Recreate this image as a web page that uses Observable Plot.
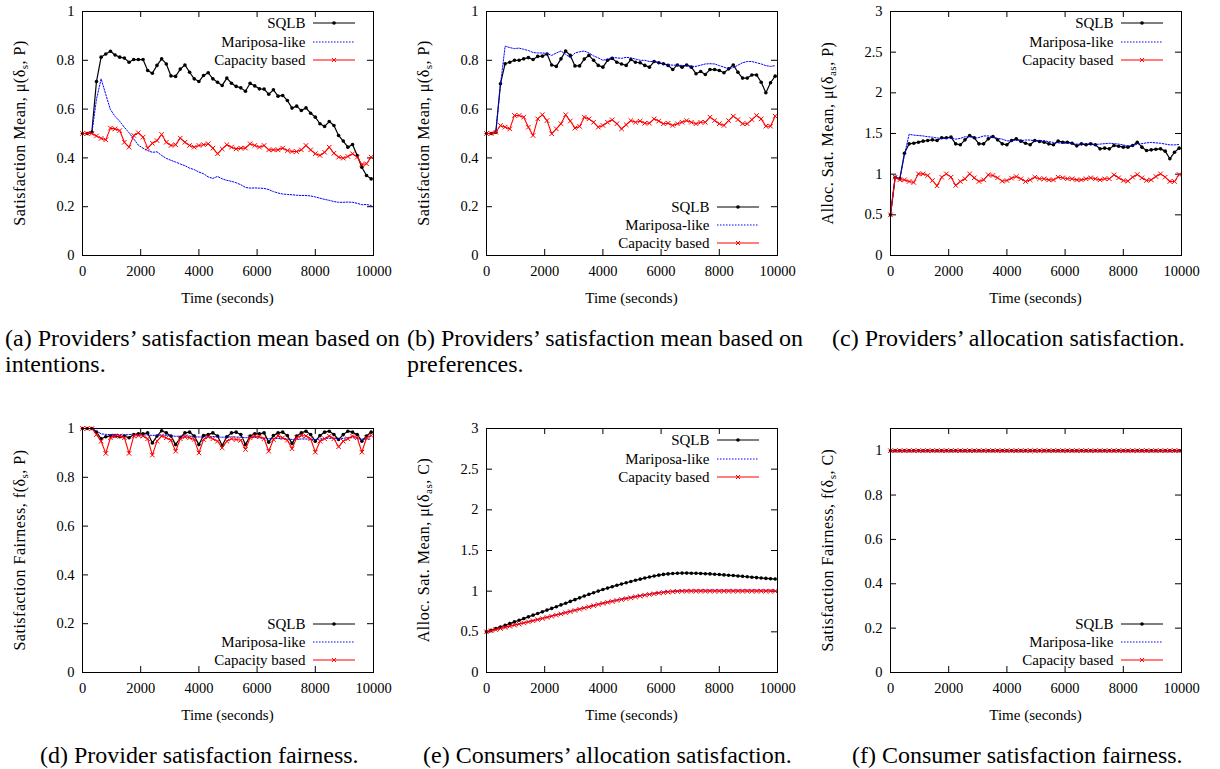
<!DOCTYPE html>
<html><head><meta charset="utf-8">
<script src="https://cdn.jsdelivr.net/npm/d3@7"></script>
<script src="https://cdn.jsdelivr.net/npm/@observablehq/plot@0.6"></script>
<style>
html,body{margin:0;padding:0;background:#fff;}
body{font-family:"Liberation Serif","Times New Roman",serif;color:#000;}
#page{position:relative;width:1220px;height:769px;overflow:hidden;background:#fff;}
.panel{position:absolute;}
.ylab{position:absolute;white-space:nowrap;font-size:16px;letter-spacing:0.5px;line-height:16px;transform:translate(-50%,-50%) rotate(-90deg);}
.ylab sub{font-size:11px;vertical-align:-3px;line-height:0;}
.xlab{position:absolute;white-space:nowrap;font-size:15px;line-height:15px;transform:translateX(-50%);}
.cap{position:absolute;font-size:24px;line-height:26px;white-space:nowrap;}
.legtext{position:absolute;font-size:15px;line-height:15px;white-space:nowrap;transform:translate(-100%,-50%);}
.legsample{position:absolute;}
</style></head><body><div id="page"></div>
<script>
// ---------- data ----------
const time = d3.range(0, 10000, 160); // sampling grid (s)
const xTicks = [0, 2000, 4000, 6000, 8000, 10000];
const yTicks01 = [0, 0.2, 0.4, 0.6, 0.8, 1];
const yTicks03 = [0, 0.5, 1, 1.5, 2, 2.5, 3];
const seriesNames = ["SQLB", "Mariposa-like", "Capacity based"];

// (a) providers' satisfaction mean based on intentions
const aSQLB = [0.5,0.5,0.505,0.713,0.813,0.826,0.837,0.822,0.813,0.809,0.792,0.803,0.803,0.803,0.758,0.747,0.779,0.806,0.785,0.736,0.734,0.764,0.781,0.751,0.724,0.713,0.738,0.749,0.724,0.71,0.697,0.727,0.706,0.693,0.687,0.673,0.706,0.695,0.683,0.682,0.661,0.679,0.653,0.656,0.635,0.604,0.612,0.594,0.605,0.583,0.567,0.54,0.529,0.549,0.533,0.492,0.469,0.444,0.455,0.41,0.362,0.328,0.314];
const aMari = [0.5,0.5,0.5,0.64,0.724,0.66,0.598,0.57,0.55,0.525,0.503,0.478,0.452,0.44,0.43,0.423,0.425,0.41,0.398,0.39,0.383,0.375,0.368,0.358,0.352,0.342,0.335,0.322,0.316,0.324,0.314,0.308,0.304,0.298,0.29,0.279,0.276,0.277,0.276,0.275,0.27,0.262,0.256,0.252,0.25,0.249,0.247,0.246,0.246,0.244,0.24,0.235,0.23,0.226,0.221,0.218,0.218,0.219,0.218,0.214,0.208,0.209,0.205];
const aCap = [0.5,0.5,0.5,0.49,0.48,0.474,0.522,0.519,0.512,0.464,0.444,0.492,0.503,0.485,0.44,0.46,0.471,0.496,0.464,0.451,0.454,0.481,0.464,0.451,0.444,0.451,0.454,0.458,0.44,0.417,0.437,0.454,0.444,0.437,0.44,0.44,0.458,0.451,0.444,0.451,0.433,0.433,0.433,0.44,0.43,0.426,0.426,0.433,0.451,0.433,0.417,0.41,0.423,0.444,0.419,0.403,0.399,0.406,0.417,0.403,0.373,0.376,0.403];

// (b) providers' satisfaction mean based on preferences
const bSQLB = [0.5,0.5,0.505,0.704,0.786,0.792,0.8,0.8,0.806,0.811,0.803,0.816,0.817,0.826,0.781,0.775,0.806,0.838,0.82,0.777,0.777,0.805,0.82,0.8,0.779,0.772,0.8,0.808,0.792,0.785,0.779,0.803,0.792,0.79,0.779,0.772,0.795,0.79,0.786,0.779,0.762,0.781,0.772,0.781,0.772,0.745,0.754,0.742,0.762,0.762,0.758,0.749,0.765,0.781,0.751,0.727,0.727,0.74,0.74,0.71,0.667,0.708,0.735];
const bMari = [0.5,0.5,0.505,0.7,0.858,0.852,0.848,0.85,0.845,0.84,0.832,0.83,0.83,0.828,0.82,0.83,0.838,0.825,0.81,0.83,0.835,0.838,0.83,0.818,0.81,0.8,0.805,0.812,0.81,0.808,0.812,0.81,0.805,0.8,0.8,0.795,0.795,0.79,0.785,0.782,0.78,0.78,0.779,0.778,0.775,0.775,0.78,0.785,0.786,0.785,0.778,0.772,0.765,0.77,0.78,0.79,0.795,0.795,0.79,0.785,0.778,0.775,0.778];
const bCap = [0.5,0.5,0.505,0.533,0.526,0.519,0.574,0.574,0.567,0.526,0.492,0.56,0.577,0.553,0.499,0.519,0.54,0.577,0.551,0.522,0.529,0.567,0.56,0.546,0.526,0.533,0.546,0.556,0.54,0.519,0.536,0.553,0.546,0.551,0.542,0.542,0.56,0.551,0.54,0.542,0.533,0.54,0.546,0.553,0.546,0.54,0.546,0.546,0.567,0.553,0.54,0.533,0.553,0.571,0.557,0.54,0.54,0.557,0.574,0.56,0.53,0.53,0.571];

// (c) providers' allocation satisfaction
const cSQLB = [0.5,0.963,0.943,1.258,1.373,1.381,1.393,1.406,1.414,1.422,1.414,1.447,1.447,1.455,1.373,1.361,1.422,1.475,1.447,1.373,1.373,1.434,1.463,1.422,1.373,1.361,1.414,1.434,1.406,1.381,1.361,1.414,1.402,1.393,1.373,1.361,1.406,1.393,1.393,1.381,1.348,1.373,1.361,1.373,1.361,1.311,1.32,1.311,1.352,1.344,1.332,1.332,1.352,1.393,1.332,1.291,1.299,1.307,1.311,1.283,1.189,1.27,1.32];
const cMari = [0.5,0.96,0.94,1.24,1.49,1.48,1.475,1.47,1.46,1.455,1.445,1.44,1.44,1.45,1.43,1.44,1.46,1.46,1.44,1.45,1.47,1.47,1.46,1.44,1.43,1.41,1.41,1.42,1.41,1.42,1.42,1.41,1.415,1.41,1.4,1.39,1.385,1.38,1.38,1.375,1.37,1.37,1.375,1.37,1.365,1.37,1.375,1.38,1.375,1.37,1.36,1.345,1.35,1.37,1.375,1.385,1.39,1.385,1.38,1.37,1.36,1.36,1.365];
const cCap = [0.5,0.963,0.93,0.93,0.91,0.898,1.004,1.004,0.984,0.922,0.857,0.963,1.004,0.963,0.861,0.91,0.943,1.004,0.955,0.91,0.93,0.992,0.984,0.955,0.914,0.922,0.951,0.971,0.943,0.91,0.93,0.963,0.943,0.943,0.93,0.93,0.963,0.955,0.943,0.943,0.93,0.93,0.943,0.955,0.943,0.93,0.943,0.943,0.992,0.955,0.922,0.914,0.963,0.996,0.955,0.922,0.93,0.971,1.004,0.963,0.91,0.91,0.996];

// (d) provider satisfaction fairness
const dSQLB = [1,1,1,0.985,0.958,0.966,0.969,0.969,0.966,0.969,0.962,0.975,0.978,0.978,0.982,0.941,0.969,0.991,0.982,0.969,0.934,0.962,0.982,0.985,0.969,0.934,0.971,0.975,0.982,0.969,0.93,0.966,0.982,0.985,0.975,0.934,0.969,0.978,0.978,0.982,0.944,0.971,0.982,0.985,0.971,0.939,0.969,0.982,0.989,0.975,0.948,0.971,0.985,0.989,0.975,0.955,0.975,0.989,0.985,0.975,0.948,0.969,0.985];
const dMari = [1,1,1,0.99,0.978,0.976,0.975,0.976,0.975,0.974,0.975,0.976,0.975,0.974,0.973,0.972,0.972,0.973,0.972,0.97,0.968,0.969,0.97,0.969,0.967,0.965,0.966,0.967,0.967,0.966,0.964,0.965,0.966,0.965,0.964,0.962,0.963,0.963,0.962,0.961,0.958,0.958,0.959,0.958,0.957,0.955,0.956,0.957,0.957,0.956,0.955,0.957,0.959,0.96,0.96,0.958,0.96,0.962,0.962,0.96,0.957,0.956,0.957];
const dCap = [1,1,1,0.975,0.948,0.898,0.962,0.969,0.969,0.962,0.898,0.969,0.971,0.969,0.958,0.891,0.948,0.969,0.962,0.952,0.907,0.958,0.966,0.962,0.955,0.9,0.955,0.966,0.958,0.948,0.921,0.948,0.958,0.955,0.952,0.914,0.962,0.969,0.966,0.958,0.907,0.955,0.969,0.962,0.952,0.917,0.962,0.971,0.969,0.958,0.903,0.948,0.958,0.969,0.958,0.925,0.948,0.958,0.969,0.962,0.903,0.962,0.971];

// (e) consumers' allocation satisfaction
const eSQLB = [0.5,0.52,0.54,0.56,0.58,0.601,0.622,0.643,0.663,0.684,0.705,0.725,0.746,0.767,0.788,0.809,0.831,0.852,0.874,0.896,0.918,0.94,0.961,0.981,1.001,1.02,1.038,1.055,1.072,1.088,1.104,1.119,1.134,1.148,1.161,1.174,1.186,1.197,1.206,1.212,1.217,1.22,1.222,1.222,1.221,1.22,1.218,1.215,1.212,1.208,1.204,1.2,1.196,1.192,1.187,1.182,1.177,1.172,1.167,1.162,1.157,1.153,1.149];
const eMari = [0.5,0.515,0.529,0.543,0.557,0.571,0.585,0.599,0.613,0.627,0.641,0.655,0.669,0.683,0.697,0.712,0.726,0.741,0.755,0.77,0.784,0.799,0.813,0.828,0.842,0.856,0.869,0.882,0.894,0.906,0.917,0.928,0.939,0.949,0.959,0.968,0.977,0.985,0.992,0.998,1.003,1.007,1.01,1.012,1.013,1.013,1.014,1.014,1.014,1.014,1.014,1.014,1.014,1.014,1.014,1.014,1.014,1.014,1.014,1.014,1.014,1.014,1.014];
const eCap = [0.5,0.513,0.527,0.541,0.554,0.568,0.582,0.595,0.609,0.622,0.636,0.65,0.663,0.677,0.691,0.706,0.72,0.734,0.749,0.763,0.778,0.792,0.807,0.821,0.836,0.85,0.862,0.874,0.886,0.897,0.908,0.919,0.93,0.94,0.95,0.959,0.968,0.976,0.983,0.989,0.994,0.997,0.999,1,1,1,1,1,1,1,1,1,1,1,1,1,1,1,1,1,1,1,1];

// (f) consumer satisfaction fairness (all three series coincide at 1)
const fAll = [1,1,1,1,1,1,1,1,1,1,1,1,1,1,1,1,1,1,1,1,1,1,1,1,1,1,1,1,1,1,1,1,1,1,1,1,1,1,1,1,1,1,1,1,1,1,1,1,1,1,1,1,1,1,1,1,1,1,1,1,1,1,1];

// ---------- layout ----------
const page = document.getElementById("page");
const W = 380, H = 320, ML = 50, MR = 39, MT = 11, MB = 65;
const innerW = W - ML - MR, innerH = H - MT - MB;
const TICK = 6;

const panels = [
  {left: 32, top: 0, yDomain: [0, 1], yTicks: yTicks01, s: [aSQLB, aMari, aCap], ylab: "Satisfaction Mean, μ(δ<sub>s</sub>, P)", legend: "top"},
  {left: 436, top: 0, yDomain: [0, 1], yTicks: yTicks01, s: [bSQLB, bMari, bCap], ylab: "Satisfaction Mean, μ(δ<sub>s</sub>, P)", legend: "bottom"},
  {left: 840, top: 0, yDomain: [0, 3], yTicks: yTicks03, s: [cSQLB, cMari, cCap], ylab: "Alloc. Sat. Mean, μ(δ<sub>as</sub>, P)", legend: "top"},
  {left: 32, top: 417, yDomain: [0, 1], yTicks: yTicks01, s: [dSQLB, dMari, dCap], ylab: "Satisfaction Fairness, f(δ<sub>s</sub>, P)", legend: "bottom"},
  {left: 436, top: 417, yDomain: [0, 3], yTicks: yTicks03, s: [eSQLB, eMari, eCap], ylab: "Alloc. Sat. Mean, μ(δ<sub>as</sub>, C)", legend: "top"},
  {left: 840, top: 417, yDomain: [0, 1.1], yTicks: yTicks01, s: [fAll, fAll, fAll], ylab: "Satisfaction Fairness, f(δ<sub>s</sub>, C)", legend: "bottom"}
];

const captions = [
  {left: 5, top: 325, html: "(a) Providers’ satisfaction mean based on<br>intentions."},
  {left: 407, top: 325, html: "(b) Providers’ satisfaction mean based on<br>preferences."},
  {left: 832, top: 325, html: "(c) Providers’ allocation satisfaction."},
  {left: 40, top: 742, html: "(d) Provider satisfaction fairness."},
  {left: 423, top: 742, html: "(e) Consumers’ allocation satisfaction."},
  {left: 852, top: 742, html: "(f) Consumer satisfaction fairness."}
];

const COLORS = ["#000000", "#0000ff", "#ff0000"];

function rows(vals) { return vals.map((v, i) => ({t: time[i], v})); }

function drawPanel(p) {
  const [sq, ma, ca] = p.s.map(rows);
  const chart = Plot.plot({
    width: W, height: H,
    marginLeft: ML, marginRight: MR, marginTop: MT, marginBottom: MB,
    style: {fontFamily: "'Liberation Serif', serif", fontSize: "14.5px", color: "#000", background: "transparent", overflow: "visible"},
    x: {domain: [0, 10000]},
    y: {domain: p.yDomain},
    marks: [
      Plot.axisX({ticks: xTicks, tickSize: 0, tickPadding: 10, tickFormat: d => String(d), label: null}),
      Plot.axisY({ticks: p.yTicks, tickSize: 0, tickPadding: 8, tickFormat: d => String(d), label: null}),
      Plot.tickX(xTicks, {x: d => d, insetTop: innerH - TICK, stroke: "#000"}),
      Plot.tickX(xTicks, {x: d => d, insetBottom: innerH - TICK, stroke: "#000"}),
      Plot.tickY(p.yTicks, {y: d => d, insetRight: innerW - TICK, stroke: "#000"}),
      Plot.tickY(p.yTicks, {y: d => d, insetLeft: innerW - TICK, stroke: "#000"}),
      Plot.line(sq, {x: "t", y: "v", stroke: COLORS[0], strokeWidth: 1.2}),
      Plot.dot(sq, {x: "t", y: "v", r: 1.8, fill: COLORS[0], stroke: null}),
      Plot.line(ma, {x: "t", y: "v", stroke: COLORS[1], strokeWidth: 1, strokeDasharray: "1.5,1.5"}),
      Plot.line(ca, {x: "t", y: "v", stroke: COLORS[2], strokeWidth: 1.1}),
      Plot.dot(ca, {x: "t", y: "v", symbol: "times", r: 2.2, stroke: COLORS[2], strokeWidth: 1}),
      Plot.frame({stroke: "#000", strokeWidth: 1})
    ]
  });
  chart.classList.add("panel");
  chart.style.left = p.left + "px";
  chart.style.top = p.top + "px";
  page.appendChild(chart);

  const fl = p.left + ML, fr = fl + innerW, ft = p.top + MT, fb = ft + innerH;

  const yl = document.createElement("div");
  yl.className = "ylab";
  yl.innerHTML = p.ylab;
  yl.style.left = (fl - 62) + "px";
  yl.style.top = ((ft + fb) / 2) + "px";
  page.appendChild(yl);

  const xl = document.createElement("div");
  xl.className = "xlab";
  xl.textContent = "Time (seconds)";
  xl.style.left = ((fl + fr) / 2) + "px";
  xl.style.top = (fb + 36) + "px";
  page.appendChild(xl);

  const centers = p.legend === "top" ? [ft + 12.3, ft + 30.6, ft + 48.9] : [fb - 48.3, fb - 30, fb - 11.7];
  seriesNames.forEach((name, k) => {
    const tx = document.createElement("div");
    tx.className = "legtext";
    tx.textContent = name;
    tx.style.left = (fr - 67.5) + "px";
    tx.style.top = centers[k] + "px";
    page.appendChild(tx);
    const svg = d3.create("svg").attr("width", 42).attr("height", 10).attr("class", "legsample")
      .style("left", (fr - 60) + "px").style("top", (centers[k] - 5) + "px");
    const line = svg.append("line").attr("x1", 0).attr("x2", 42).attr("y1", 5).attr("y2", 5).attr("stroke", COLORS[k]);
    if (k === 0) { line.attr("stroke-width", 1.2); svg.append("circle").attr("cx", 21).attr("cy", 5).attr("r", 1.8).attr("fill", COLORS[0]); }
    if (k === 1) { line.attr("stroke-width", 1).attr("stroke-dasharray", "1.5,1.5"); }
    if (k === 2) { line.attr("stroke-width", 1.1); svg.append("path").attr("d", "M19,3L23,7M19,7L23,3").attr("stroke", COLORS[2]).attr("stroke-width", 1); }
    page.appendChild(svg.node());
  });
}

panels.forEach(drawPanel);

captions.forEach(c => {
  const d = document.createElement("div");
  d.className = "cap";
  d.innerHTML = c.html;
  d.style.left = c.left + "px";
  d.style.top = c.top + "px";
  page.appendChild(d);
});
</script></body></html>
